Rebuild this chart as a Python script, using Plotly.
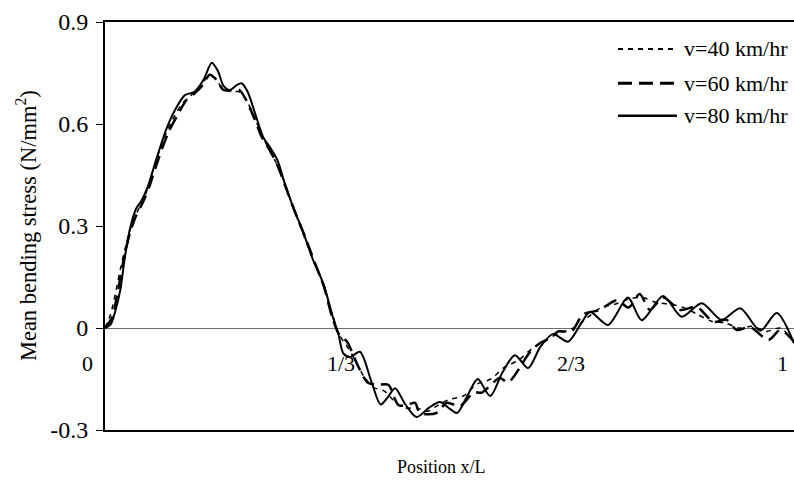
import plotly.graph_objects as go

# Mean bending stress along the span for three vehicle speeds
x_v40 = [0, 0.008, 0.015, 0.022, 0.030, 0.040, 0.050, 0.060, 0.072, 0.086, 0.100, 0.112, 0.125,
         0.138, 0.150, 0.160, 0.170, 0.183, 0.195, 0.205, 0.215, 0.226, 0.238, 0.250, 0.262,
         0.274, 0.288, 0.302, 0.317, 0.330, 0.340, 0.350, 0.362, 0.375, 0.390, 0.405, 0.420,
         0.435, 0.452, 0.468, 0.485, 0.500, 0.520, 0.540, 0.560, 0.580, 0.600, 0.620, 0.640,
         0.660, 0.680, 0.700, 0.720, 0.740, 0.760, 0.780, 0.800, 0.820, 0.840, 0.860, 0.880,
         0.900, 0.920, 0.940, 0.960, 0.980, 1.0]
y_v40 = [0, 0.04, 0.10, 0.17, 0.24, 0.31, 0.355, 0.40, 0.48, 0.56, 0.62, 0.66, 0.685,
         0.71, 0.74, 0.735, 0.705, 0.695, 0.695, 0.67, 0.63, 0.575, 0.525, 0.48, 0.42,
         0.35, 0.275, 0.20, 0.125, 0.04, -0.02, -0.05, -0.09, -0.14, -0.175, -0.185, -0.215,
         -0.235, -0.235, -0.245, -0.225, -0.21, -0.20, -0.165, -0.15, -0.115, -0.095, -0.06, -0.035,
         -0.015, 0.0, 0.03, 0.06, 0.07, 0.085, 0.09, 0.075, 0.07, 0.06, 0.04, 0.02,
         0.015, 0.0, 0.005, -0.01, 0.0, -0.04]

x_v60 = [0, 0.010, 0.018, 0.026, 0.035, 0.045, 0.055, 0.065, 0.078, 0.092, 0.105, 0.118, 0.130,
         0.142, 0.152, 0.162, 0.172, 0.185, 0.195, 0.205, 0.216, 0.228, 0.240, 0.252, 0.263,
         0.275, 0.290, 0.304, 0.318, 0.330, 0.340, 0.351, 0.368, 0.381, 0.394, 0.411, 0.426,
         0.440, 0.450, 0.457, 0.481, 0.496, 0.515, 0.535, 0.547, 0.573, 0.585, 0.617, 0.631,
         0.646, 0.658, 0.677, 0.694, 0.718, 0.743, 0.760, 0.776, 0.791, 0.810, 0.835, 0.859,
         0.883, 0.902, 0.917, 0.936, 0.963, 0.980, 1.0]
y_v60 = [0, 0.03, 0.10, 0.19, 0.27, 0.33, 0.37, 0.42, 0.50, 0.575, 0.625, 0.67, 0.69,
         0.715, 0.745, 0.73, 0.70, 0.70, 0.70, 0.67, 0.62, 0.56, 0.52, 0.47, 0.41,
         0.345, 0.27, 0.195, 0.12, 0.03, -0.02, -0.04, -0.115, -0.16, -0.167, -0.167, -0.227,
         -0.225, -0.22, -0.25, -0.25, -0.22, -0.23, -0.19, -0.19, -0.147, -0.16, -0.07, -0.045,
         -0.03, -0.01, -0.01, 0.04, 0.053, 0.082, 0.06, 0.10, 0.053, 0.09, 0.053, 0.062,
         0.018, 0.024, -0.006, 0.003, -0.035, -0.006, -0.04]

x_v80 = [0, 0.008, 0.015, 0.022, 0.029, 0.036, 0.045, 0.053, 0.062, 0.075, 0.090, 0.104, 0.116,
         0.130, 0.143, 0.155, 0.164, 0.172, 0.181, 0.191, 0.198, 0.207, 0.218, 0.230, 0.240,
         0.250, 0.261, 0.273, 0.288, 0.302, 0.317, 0.331, 0.339, 0.346, 0.356, 0.370, 0.387,
         0.400, 0.410, 0.421, 0.436, 0.452, 0.470, 0.486, 0.500, 0.511, 0.527, 0.541, 0.559,
         0.577, 0.595, 0.614, 0.632, 0.650, 0.672, 0.690, 0.704, 0.730, 0.759, 0.779, 0.810,
         0.837, 0.866, 0.895, 0.922, 0.951, 0.975, 1.0]
y_v80 = [0, 0.01, 0.05, 0.11, 0.21, 0.29, 0.35, 0.375, 0.415, 0.50, 0.59, 0.65, 0.685,
         0.695, 0.73, 0.78, 0.755, 0.712, 0.70, 0.714, 0.72, 0.695, 0.63, 0.56, 0.53,
         0.495, 0.425, 0.356, 0.28, 0.20, 0.13, 0.03, -0.02, -0.075, -0.085, -0.07, -0.16,
         -0.225, -0.205, -0.177, -0.225, -0.262, -0.235, -0.218, -0.237, -0.25, -0.195, -0.15, -0.20,
         -0.13, -0.08, -0.118, -0.055, -0.018, -0.04, 0.01, 0.047, 0.009, 0.09, 0.023, 0.094,
         0.033, 0.073, 0.024, 0.058, -0.008, 0.044, -0.045]

series_names = ["v=40 km/hr", "v=60 km/hr", "v=80 km/hr"]
x_tick_vals = [0, 1 / 3, 2 / 3, 1]
x_tick_text = ["0", "1/3", "2/3", "1"]
y_tick_vals = [-0.3, 0, 0.3, 0.6, 0.9]
y_tick_text = ["-0.3", "0", "0.3", "0.6", "0.9"]

FONT = "Liberation Serif, Times New Roman, serif"
styles = [
    dict(width=1.5, dash="5px,5px"),
    dict(width=2.5, dash="14px,7px"),
    dict(width=2, dash="solid"),
]

fig = go.Figure()
for xs, ys, name, st in zip([x_v40, x_v60, x_v80], [y_v40, y_v60, y_v80], series_names, styles):
    fig.add_trace(go.Scatter(
        x=xs, y=ys, name=name, mode="lines",
        line=dict(color="black", width=st["width"], dash=st["dash"], shape="spline", smoothing=0.8),
        showlegend=False,
    ))

# Legend drawn as line samples plus labels
legend_rows_y = [0.934, 0.850, 0.770]
shapes = []
annotations = []
for name, st, ly in zip(series_names, styles, legend_rows_y):
    shapes.append(dict(type="line", xref="paper", yref="paper", x0=0.7446, x1=0.830, y0=ly, y1=ly,
                       line=dict(color="black", width=st["width"] + 0.5, dash=st["dash"])))
    annotations.append(dict(xref="paper", yref="paper", x=0.838, y=ly, text=name, showarrow=False,
                            xanchor="left", yanchor="middle",
                            font=dict(family=FONT, size=22, color="black")))

# Category-style labels along the zero line
x_shifts = [-18, 6, 7, -12]
for xv, txt, sh in zip(x_tick_vals, x_tick_text, x_shifts):
    annotations.append(dict(x=xv, y=-0.105, xref="x", yref="y", text=txt, showarrow=False,
                            xanchor="center", yanchor="middle", xshift=sh,
                            font=dict(family=FONT, size=22, color="black")))

annotations.append(dict(xref="paper", yref="paper", x=0.4877, y=-0.0907, text="Position x/L",
                        showarrow=False, xanchor="center", yanchor="middle",
                        font=dict(family=FONT, size=18, color="black")))
annotations.append(dict(xref="paper", yref="paper", x=-0.1145, y=0.5,
                        text="Mean bending stress (N/mm<sup>2</sup>)", textangle=-90,
                        showarrow=False, xanchor="center", yanchor="middle",
                        font=dict(family=FONT, size=22.5, color="black")))

fig.update_layout(
    width=794, height=483,
    margin=dict(l=105, r=0, t=22, b=53),
    paper_bgcolor="white", plot_bgcolor="white",
    shapes=shapes, annotations=annotations,
    xaxis=dict(range=[0, 1], showgrid=False, zeroline=False, showticklabels=False, ticks="",
               showline=True, linecolor="black", linewidth=2, mirror=True),
    yaxis=dict(range=[-0.3, 0.9], tickvals=y_tick_vals, ticktext=y_tick_text, showgrid=False,
               zeroline=True, zerolinecolor="#6e6e6e", zerolinewidth=1,
               showline=True, linecolor="black", linewidth=2, mirror=False,
               ticks="outside", ticklen=7, tickcolor="black", tickwidth=1,
               ticklabelstandoff=3,
               tickfont=dict(family=FONT, size=24, color="black")),
)

fig.write_html("out.html")
